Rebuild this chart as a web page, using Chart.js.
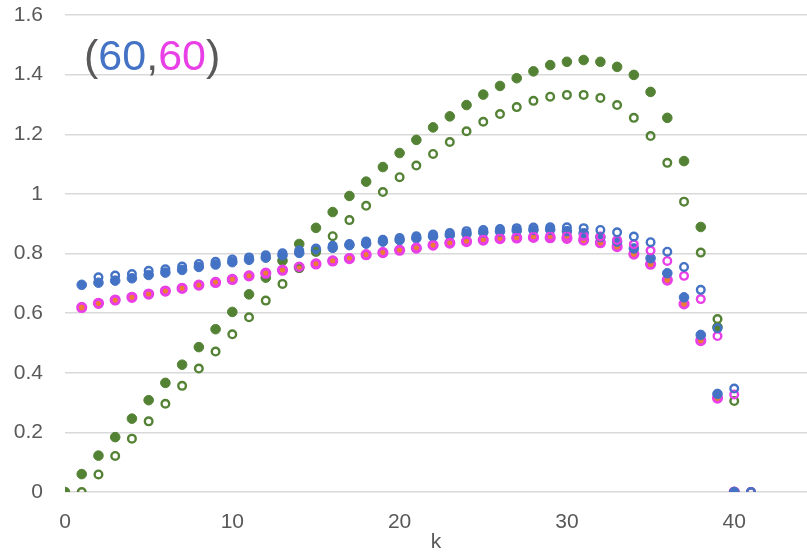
<!DOCTYPE html>
<html>
<head>
<meta charset="utf-8">
<script src="https://cdn.jsdelivr.net/npm/chart.js@4"></script>
<style>
  body { margin: 0; background: #fff; }
  #wrap { position: relative; width: 807px; height: 553px; }
  #label {
    position: absolute; left: 84px; top: 34px;
    font: 43px/43px "Liberation Sans", Arial, sans-serif; color: #595959;
    white-space: nowrap;
  }
</style>
</head>
<body>
<div id="wrap">
  <canvas id="chart"></canvas>
  <div id="label">(<span style="color:#4472C4">60</span>,<span style="color:#E83FE6">60</span>)</div>
</div>
<script>
const kValues = [0, 1, 2, 3, 4, 5, 6, 7, 8, 9, 10, 11, 12, 13, 14, 15, 16, 17, 18, 19, 20,
  21, 22, 23, 24, 25, 26, 27, 28, 29, 30, 31, 32, 33, 34, 35, 36, 37, 38, 39, 40, 41];

const greenFilled = [0, 0.060, 0.122, 0.184, 0.246, 0.308, 0.366, 0.427, 0.486, 0.546, 0.604,
  0.663, 0.719, 0.776, 0.832, 0.886, 0.939, 0.993, 1.041, 1.090, 1.137,
  1.181, 1.223, 1.260, 1.298, 1.333, 1.362, 1.388, 1.411, 1.432, 1.443,
  1.449, 1.443, 1.426, 1.399, 1.342, 1.255, 1.110, 0.889, 0.553, 0, null];
const greenHollow = [null, 0, 0.059, 0.121, 0.179, 0.237, 0.296, 0.356, 0.414, 0.471, 0.529,
  0.586, 0.642, 0.698, 0.751, 0.805, 0.858, 0.912, 0.960, 1.006, 1.056,
  1.095, 1.134, 1.174, 1.210, 1.242, 1.268, 1.291, 1.312, 1.326, 1.332,
  1.332, 1.322, 1.298, 1.255, 1.194, 1.104, 0.974, 0.803, 0.580, 0.305, 0];
const blueFilled = [null, 0.695, 0.702, 0.709, 0.717, 0.728, 0.736, 0.745, 0.755, 0.763, 0.771,
  0.779, 0.786, 0.794, 0.802, 0.811, 0.819, 0.828, 0.833, 0.840, 0.845,
  0.851, 0.857, 0.862, 0.866, 0.871, 0.874, 0.877, 0.879, 0.880, 0.875,
  0.868, 0.855, 0.840, 0.817, 0.784, 0.734, 0.653, 0.527, 0.329, 0, null];
const blueHollow = [null, null, 0.720, 0.726, 0.731, 0.742, 0.747, 0.756, 0.765, 0.772, 0.780,
  0.787, 0.794, 0.801, 0.810, 0.817, 0.826, 0.832, 0.840, 0.846, 0.852,
  0.858, 0.864, 0.869, 0.875, 0.879, 0.882, 0.885, 0.887, 0.888, 0.888,
  0.885, 0.879, 0.871, 0.857, 0.838, 0.806, 0.755, 0.678, 0.549, 0.347, 0];
const pinkFilled = [null, 0.619, 0.633, 0.644, 0.653, 0.664, 0.674, 0.683, 0.694, 0.703, 0.713,
  0.725, 0.734, 0.744, 0.754, 0.765, 0.775, 0.783, 0.796, 0.803, 0.811,
  0.818, 0.828, 0.835, 0.840, 0.845, 0.850, 0.852, 0.854, 0.853, 0.851,
  0.845, 0.836, 0.823, 0.798, 0.764, 0.711, 0.631, 0.508, 0.315, 0, null];
const pinkHollow = [null, null, 0.632, 0.643, 0.653, 0.664, 0.674, 0.684, 0.694, 0.704, 0.714,
  0.725, 0.735, 0.745, 0.755, 0.766, 0.776, 0.785, 0.796, 0.804, 0.812,
  0.820, 0.828, 0.836, 0.842, 0.847, 0.851, 0.854, 0.857, 0.858, 0.859,
  0.859, 0.857, 0.845, 0.831, 0.810, 0.775, 0.725, 0.647, 0.523, 0.327, 0];

const xTicks = [0, 10, 20, 30, 40];

const GREEN = '#548235';
const BLUE = '#4472C4';
const PINK = '#E83FE6';
const ORANGE = '#ED7D31';
const TEXT = '#595959';

function points(values) {
  return kValues.map((k, i) => ({ x: k, y: values[i] })).filter(p => p.y !== null);
}

function hollow(values, color) {
  return {
    data: points(values),
    pointRadius: 3.8,
    pointBorderWidth: 2.4,
    pointBorderColor: color,
    pointBackgroundColor: 'rgba(255,255,255,0)'
  };
}

function filled(values, color, fill, border) {
  return {
    data: points(values),
    pointRadius: border ? 4.2 : 4.8,
    pointBorderWidth: border || 1,
    pointBorderColor: color,
    pointBackgroundColor: fill
  };
}

// dataset 0 is drawn on top
const datasets = [
  hollow(blueHollow, BLUE),
  hollow(pinkHollow, PINK),
  hollow(greenHollow, GREEN),
  filled(blueFilled, BLUE, BLUE),
  filled(pinkFilled, PINK, ORANGE, 2.8),
  filled(greenFilled, GREEN, GREEN)
];

const font = { family: '"Liberation Sans", Arial, sans-serif', size: 21 };

new Chart(document.getElementById('chart'), {
  type: 'scatter',
  data: { datasets: datasets },
  options: {
    responsive: true,
    maintainAspectRatio: false,
    animation: false,
    layout: { autoPadding: false, padding: { top: 15, right: 0, left: 0, bottom: 0 } },
    plugins: { legend: { display: false }, tooltip: { enabled: false } },
    scales: {
      x: {
        type: 'linear',
        min: 0,
        max: 44.35,
        afterBuildTicks: s => { s.ticks = xTicks.map(v => ({ value: v })); },
        afterFit: s => { s.height = 61; s.paddingRight = 0; },
        grid: { display: false, drawTicks: false },
        border: { display: false },
        ticks: { color: TEXT, font: font, padding: 18, maxRotation: 0 },
        title: { display: true, text: 'k', color: TEXT, font: { ...font, lineHeight: 1 }, padding: 0 }
      },
      y: {
        min: 0,
        max: 1.6,
        afterFit: s => { s.width = 65; s.paddingTop = 0; s.paddingBottom = 0; },
        grid: { color: '#D9D9D9', lineWidth: 1.5, drawTicks: false },
        border: { display: false },
        ticks: {
          stepSize: 0.2, color: TEXT, font: font, padding: 22,
          callback: v => String(Math.round(v * 10) / 10)
        }
      }
    }
  }
});
</script>
</body>
</html>
